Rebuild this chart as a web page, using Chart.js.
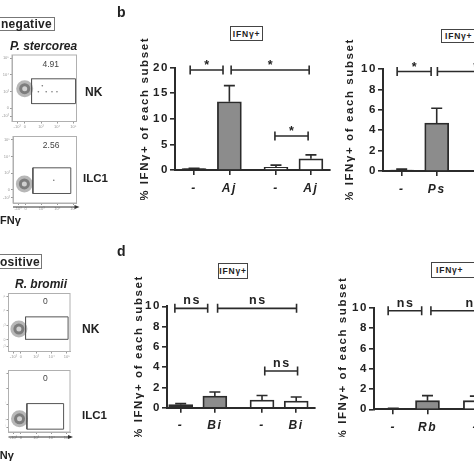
<!DOCTYPE html>
<html><head><meta charset="utf-8">
<script src="https://cdn.jsdelivr.net/npm/chart.js@4"></script>
<style>
html,body{margin:0;padding:0;background:#fff;width:474px;height:474px;overflow:hidden;position:relative;font-family:"Liberation Sans",Arial,sans-serif;color:#222}
canvas{position:absolute}
.t{position:absolute;white-space:nowrap;font-weight:bold;line-height:1}
.box{position:absolute;box-sizing:border-box;border:1px solid #777;font-weight:bold;display:flex;align-items:center;white-space:nowrap}
.ifn{position:absolute;box-sizing:border-box;border:1px solid #444;font-weight:bold;font-size:8.5px;letter-spacing:0.8px;display:flex;align-items:center;justify-content:center;background:#fff}
</style></head><body>

<canvas id="p1" width="85" height="85" style="left:0;top:45px"></canvas>
<canvas id="p2" width="85" height="85" style="left:0;top:128px"></canvas>
<canvas id="p3" width="80" height="75" style="left:0;top:285px"></canvas>
<canvas id="p4" width="80" height="80" style="left:0;top:362px"></canvas>

<canvas id="bL" width="230" height="200" style="left:115px;top:0"></canvas>
<canvas id="bR" width="230" height="200" style="left:320px;top:0"></canvas>
<canvas id="dL" width="215" height="200" style="left:115px;top:237px"></canvas>
<canvas id="dR" width="230" height="200" style="left:320px;top:237px"></canvas>

<div class="box" style="left:-20px;top:17px;width:75px;height:14px;font-size:12px;letter-spacing:0.3px;justify-content:flex-end;padding-right:2px">negative</div>
<div class="t" style="left:10px;top:40px;font-size:12px;font-style:italic">P. stercorea</div>
<div class="t" style="left:85px;top:86px;font-size:12px">NK</div>
<div class="t" style="left:83px;top:172.5px;font-size:11.5px">ILC1</div>
<div class="t" style="left:-3px;top:214.5px;font-size:11px">IFNγ</div>

<div class="box" style="left:-20px;top:254px;width:62px;height:15px;font-size:12px;letter-spacing:0.3px;justify-content:flex-end;padding-right:1px">positive</div>
<div class="t" style="left:15px;top:278px;font-size:12px;font-style:italic">R. bromii</div>
<div class="t" style="left:82px;top:323px;font-size:12px">NK</div>
<div class="t" style="left:82px;top:409.5px;font-size:11.5px">ILC1</div>
<div class="t" style="left:-10px;top:449.5px;font-size:11px">IFNγ</div>

<div class="t" style="left:117px;top:5px;font-size:14px">b</div>
<div class="t" style="left:117px;top:244px;font-size:14px">d</div>

<div class="ifn" style="left:230px;top:26px;width:33px;height:15px">IFNγ+</div>
<div class="ifn" style="left:441px;top:29px;width:40px;height:14px;justify-content:flex-start;padding-left:3px">IFNγ+</div>
<div class="ifn" style="left:218px;top:263px;width:30px;height:16px">IFNγ+</div>
<div class="ifn" style="left:431px;top:262px;width:50px;height:16px;justify-content:flex-start;padding-left:4px">IFNγ+</div>

<script>
// ---------------- data ----------------
// panel b, left chart (A. j.)
const bLeftLabels = ['-', 'Aj', '-', 'Aj'];
const bLeftPos = [0, 1, 2.32, 3.31];
const bLeftValues = [0.3, 13.35, 0.5, 2.2];
const bLeftErrors = [0.05, 3.15, 0.45, 0.75];
const bLeftSigFrom = [-0.11, 1.05, 2.29];
const bLeftSigTo = [0.82, 3.26, 3.23];
const bLeftSigAt = [19.55, 19.55, 6.65];
const bLeftSigText = ['*', '*', '*'];

// panel b, right chart (P. s.)
const bRightLabels = ['-', 'Ps', '-', 'Ps'];
const bRightPos = [0, 1, 2.42, 3.42];
const bRightValues = [0.1, 4.7, 0.3, 1.0];
const bRightErrors = [0.08, 1.45, 0.2, 0.4];
const bRightSigFrom = [-0.13, 1.02];
const bRightSigTo = [0.84, 3.2];
const bRightSigAt = [9.75, 9.75];
const bRightSigText = ['*', '*'];

// panel d, left chart (B. i.)
const dLeftLabels = ['-', 'Bi', '-', 'Bi'];
const dLeftPos = [0, 1, 2.38, 3.38];
const dLeftValues = [0.3, 1.15, 0.75, 0.65];
const dLeftErrors = [0.1, 0.4, 0.45, 0.4];
const dLeftSigFrom = [-0.17, 1.08, 2.46];
const dLeftSigTo = [0.79, 3.39, 3.42];
const dLeftSigAt = [9.8, 9.8, 3.62];
const dLeftSigText = ['ns', 'ns', 'ns'];

// panel d, right chart (R. b.)
const dRightLabels = ['-', 'Rb', '-', 'Rb'];
const dRightPos = [0, 1, 2.4, 3.4];
const dRightValues = [0.05, 0.85, 0.85, 0.6];
const dRightErrors = [0.05, 0.5, 0.45, 0.4];
const dRightSigFrom = [-0.15, 1.1];
const dRightSigTo = [0.83, 3.6];
const dRightSigAt = [9.7, 9.7];
const dRightSigText = ['ns', 'ns'];

// flow plots (0-100 frame units): gate [x1, x2, yLow, yHigh], blob centre, events, percentage
const flowPct = ['4.91', '2.56', '0', '0'];
const flowGate1 = [30.3, 98.5, 26.9, 64.2];
const flowGate2 = [31.3, 91, 14.3, 52.9];
const flowGate3 = [27.7, 96.9, 21, 59.7];
const flowGate4 = [29.9, 89.6, 4.6, 46.2];
const flowBlobX = [19.7, 17.9, 16.9, 17.9];
const flowBlobY = [49.3, 28.6, 38.7, 21.5];
const flowEvents1X = [47, 40.9, 53, 62, 69.7];
const flowEvents1Y = [53.7, 44.8, 44.8, 44.8, 44.8];
const flowEvents2X = [64.2];
const flowEvents2Y = [34.3];
const flowTickPos = [8, 20, 45, 70, 95];
const flowTickText = ['-10³', '0', '10³', '10⁴', '10⁵'];

// ---------------- drawing ----------------
const FONT = '"Liberation Sans", Arial, sans-serif';
const AXIS = '#2b2b2b';
const FILLS = ['#2e2e2e', '#8c8c8c', '#ffffff', '#ffffff'];

function barChart(id, d, g) {
  const extras = {
    id: 'extras' + id,
    beforeDraw(c) { c.ctx.letterSpacing = '1.6px'; },
    afterDatasetsDraw(c) {
      const ctx = c.ctx, xs = c.scales.x, ys = c.scales.y;
      ctx.save();
      ctx.strokeStyle = AXIS; ctx.lineWidth = 1.6;
      d.pos.forEach((p, i) => {
        const x = xs.getPixelForValue(p);
        const y0 = ys.getPixelForValue(d.values[i]);
        const y1 = ys.getPixelForValue(d.values[i] + d.errors[i]);
        ctx.beginPath();
        ctx.moveTo(x, y0); ctx.lineTo(x, y1);
        ctx.moveTo(x - 5.5, y1); ctx.lineTo(x + 5.5, y1);
        ctx.stroke();
      });
      ctx.restore();
    },
    afterDraw(c) {
      const ctx = c.ctx, xs = c.scales.x, ys = c.scales.y;
      ctx.save();
      ctx.strokeStyle = AXIS; ctx.fillStyle = '#222'; ctx.lineWidth = 1.6;
      ctx.font = 'bold 12.5px ' + FONT;
      ctx.textAlign = 'center'; ctx.textBaseline = 'alphabetic';
      d.sigFrom.forEach((f, i) => {
        const x1 = xs.getPixelForValue(f), x2 = xs.getPixelForValue(d.sigTo[i]);
        const y = ys.getPixelForValue(d.sigAt[i]);
        ctx.beginPath();
        ctx.moveTo(x1, y); ctx.lineTo(x2, y);
        ctx.moveTo(x1, y - 4.5); ctx.lineTo(x1, y + 4.5);
        ctx.moveTo(x2, y - 4.5); ctx.lineTo(x2, y + 4.5);
        ctx.stroke();
        const star = d.sigText[i] === '*';
        ctx.fillText(d.sigText[i], (x1 + x2) / 2 + 0.8, star ? y - 1 : y - 4);
      });
      ctx.restore();
    }
  };
  const line = { display: true, drawOnChartArea: false, drawTicks: true, tickLength: 5, color: AXIS, lineWidth: 1.6, offset: false };
  return new Chart(document.getElementById(id), {
    type: 'bar',
    data: {
      datasets: [{
        data: d.pos.map((x, i) => ({ x: x, y: d.values[i] })),
        backgroundColor: FILLS, borderColor: AXIS, borderWidth: 1.8,
        barThickness: 24, borderSkipped: 'bottom'
      }]
    },
    options: {
      responsive: false, animation: false, events: [],
      layout: { padding: { top: g.padTop, right: g.padRight, left: 0, bottom: 0 } },
      plugins: { legend: { display: false }, tooltip: { enabled: false } },
      scales: {
        x: {
          type: 'linear', min: g.xmin, max: g.xmax, offset: false,
          afterBuildTicks: s => { s.ticks = d.pos.map(v => ({ value: v })); },
          afterFit: s => { s.height = g.xh; },
          ticks: { callback: (v, i) => d.labels[i], autoSkip: false, maxRotation: 0, padding: 6,
                   font: { family: FONT, size: 12, weight: 'bold', style: 'italic' }, color: '#222' },
          grid: line, border: { display: true, color: AXIS, width: 2 }
        },
        y: {
          min: 0, max: g.ymax,
          afterFit: s => { s.width = g.yw; },
          ticks: { stepSize: g.step, padding: 1, font: { family: FONT, size: 11.5, weight: 'bold' }, color: '#222' },
          grid: line, border: { display: true, color: AXIS, width: 2 },
          title: { display: true, text: '% IFNγ+ of each subset', color: '#222',
                   font: { family: FONT, size: 11.5, weight: 'bold' }, padding: { top: g.titlePad, bottom: 0 } }
        }
      }
    },
    plugins: [extras]
  });
}

barChart('bL', { labels: bLeftLabels, pos: bLeftPos, values: bLeftValues, errors: bLeftErrors,
  sigFrom: bLeftSigFrom, sigTo: bLeftSigTo, sigAt: bLeftSigAt, sigText: bLeftSigText },
  { padTop: 67.7, padRight: 15, xh: 30, yw: 60, xmin: -0.54, xmax: 3.85, ymax: 20, step: 5, titlePad: 23 });

barChart('bR', { labels: bRightLabels, pos: bRightPos, values: bRightValues, errors: bRightErrors,
  sigFrom: bRightSigFrom, sigTo: bRightSigTo, sigAt: bRightSigAt, sigText: bRightSigText },
  { padTop: 69, padRight: 13.5, xh: 29, yw: 63, xmin: -0.534, xmax: 3.85, ymax: 10, step: 2, titlePad: 23 });

barChart('dL', { labels: dLeftLabels, pos: dLeftPos, values: dLeftValues, errors: dLeftErrors,
  sigFrom: dLeftSigFrom, sigTo: dLeftSigTo, sigAt: dLeftSigAt, sigText: dLeftSigText },
  { padTop: 69.3, padRight: 15, xh: 29.3, yw: 52, xmin: -0.40, xmax: 3.93, ymax: 10, step: 2, titlePad: 17 });

barChart('dR', { labels: dRightLabels, pos: dRightPos, values: dRightValues, errors: dRightErrors,
  sigFrom: dRightSigFrom, sigTo: dRightSigTo, sigAt: dRightSigAt, sigText: dRightSigText },
  { padTop: 70.7, padRight: 22.3, xh: 27.7, yw: 54, xmin: -0.564, xmax: 3.93, ymax: 10, step: 2, titlePad: 16 });

function flowChart(id, k, evX, evY, g) {
  const gate = [flowGate1, flowGate2, flowGate3, flowGate4][k];
  const blob = { x: flowBlobX[k], y: flowBlobY[k] };
  const rect = [
    { x: gate[0], y: gate[2] }, { x: gate[1], y: gate[2] }, { x: gate[1], y: gate[3] },
    { x: gate[0], y: gate[3] }, { x: gate[0], y: gate[2] }
  ];
  const extras = {
    id: 'flow' + id,
    afterDraw(c) {
      const ctx = c.ctx, a = c.chartArea, xs = c.scales.x, ys = c.scales.y;
      ctx.save();
      ctx.strokeStyle = '#b0b0b0'; ctx.lineWidth = 1;
      ctx.strokeRect(a.left, a.top, a.right - a.left, a.bottom - a.top);
      ctx.fillStyle = '#444';
      ctx.font = '8.5px ' + FONT; ctx.textAlign = 'center'; ctx.textBaseline = 'middle';
      ctx.fillText(flowPct[k], xs.getPixelForValue(60), ys.getPixelForValue(86));
      if (g.arrow) {
        const y = a.bottom + g.arrow;
        ctx.strokeStyle = '#333'; ctx.fillStyle = '#333';
        ctx.beginPath(); ctx.moveTo(a.left, y); ctx.lineTo(a.right - 1, y); ctx.stroke();
        ctx.beginPath(); ctx.moveTo(a.right + 3, y); ctx.lineTo(a.right - 2, y - 2); ctx.lineTo(a.right - 2, y + 2); ctx.closePath(); ctx.fill();
      }
      ctx.restore();
    }
  };
  const ax = (fit) => ({
    type: 'linear', min: 0, max: 100,
    afterBuildTicks: s => { s.ticks = flowTickPos.map(v => ({ value: v })); },
    afterFit: fit,
    ticks: { callback: (v, i) => flowTickText[i], autoSkip: false, maxRotation: 0, padding: 1,
             font: { family: FONT, size: 4 }, color: '#999' },
    grid: { display: true, drawOnChartArea: false, tickLength: 2, color: '#999' },
    border: { display: true, color: '#b0b0b0' }
  });
  new Chart(document.getElementById(id), {
    type: 'scatter',
    data: {
      datasets: [
        { type: 'line', data: rect, borderColor: '#555', borderWidth: 1, pointRadius: 0, fill: false, tension: 0 },
        { data: [blob], pointRadius: 2.5, backgroundColor: '#d0d0d0', borderWidth: 0 },
        { data: [blob], pointRadius: 5.5, backgroundColor: '#7d7d7d', borderWidth: 0 },
        { data: [blob], pointRadius: 8.5, backgroundColor: 'rgba(165,165,165,0.8)', borderWidth: 0 },
        { data: evX.map((x, i) => ({ x: x, y: evY[i] })), pointRadius: 0.8, backgroundColor: '#777', borderWidth: 0 }
      ]
    },
    options: {
      responsive: false, animation: false, events: [],
      layout: { padding: { top: g.padTop, right: g.padRight, left: 0, bottom: 0 } },
      plugins: { legend: { display: false }, tooltip: { enabled: false } },
      scales: {
        x: ax(s => { s.height = g.xh; }),
        y: ax(s => { s.width = g.yw; })
      }
    },
    plugins: [extras]
  });
}

flowChart('p1', 0, flowEvents1X, flowEvents1Y, { padTop: 10, padRight: 7, xh: 8, yw: 12 });
flowChart('p2', 1, flowEvents2X, flowEvents2Y, { padTop: 5, padRight: 5, xh: 10, yw: 13, arrow: 4 });
flowChart('p3', 2, [], [], { padTop: 5, padRight: 10, xh: 8, yw: 5 });
flowChart('p4', 3, [], [], { padTop: 5, padRight: 10, xh: 10, yw: 3, arrow: 5 });
</script>
</body></html>
